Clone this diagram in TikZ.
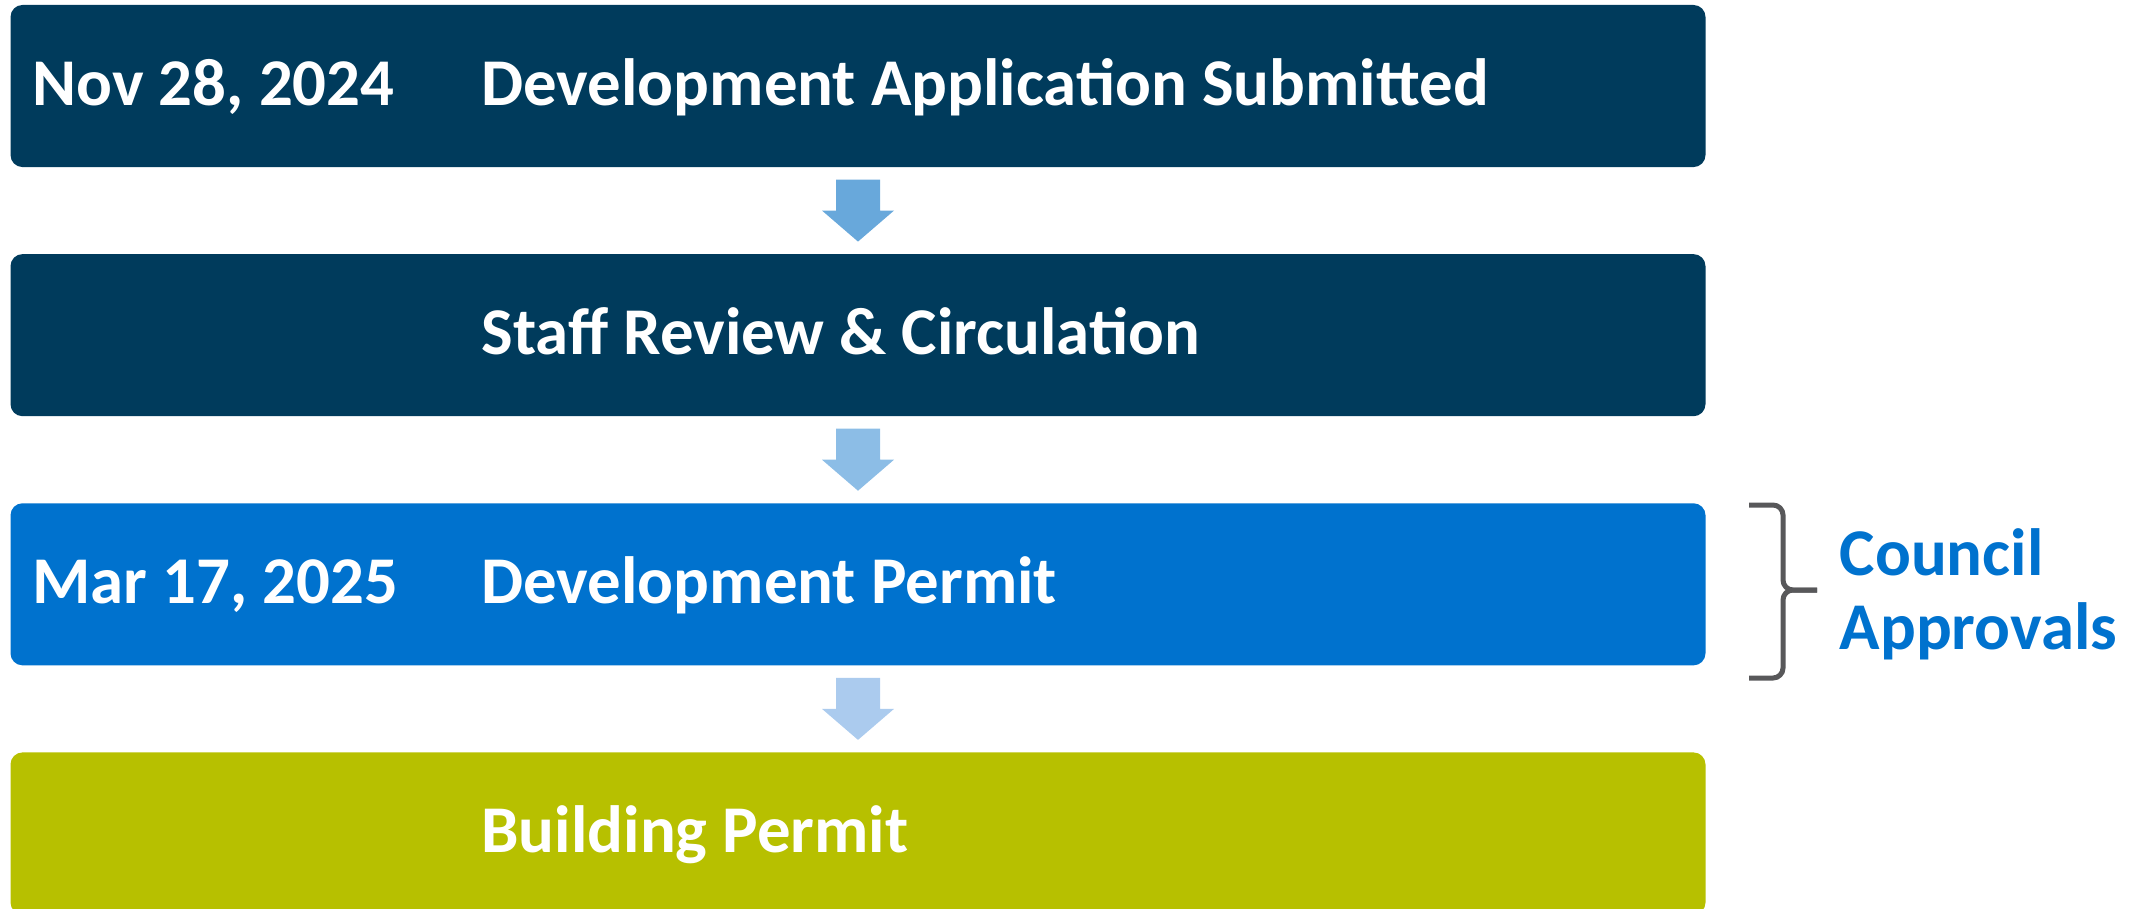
\documentclass[tikz,border=0pt]{standalone}
\usepackage{fontspec}
\setmainfont{Carlito}
\usetikzlibrary{calc}
\definecolor{navy}{HTML}{003B5C}
\definecolor{planblue}{HTML}{0072CE}
\definecolor{olive}{HTML}{B7C000}
\definecolor{arrowA}{HTML}{68A8DB}
\definecolor{arrowB}{HTML}{8CBDE6}
\definecolor{arrowC}{HTML}{ABCBEE}
\definecolor{bracegray}{HTML}{58585A}
\tikzstyle{stage} =[rectangle, rounded corners=0.12cm, minimum width=16.94cm, minimum height=1.62cm, inner sep=0pt]
\tikzstyle{label} =[anchor=base west, inner sep=0pt, text=white, font=\bfseries\fontsize{19}{21}\selectfont]
\tikzstyle{note} =[anchor=west, inner sep=0pt, align=left, text=planblue, font=\bfseries\fontsize{19}{21}\selectfont]
% fat arrow drawn in the gap between two stages
\newcommand{\stagearrow}[3]{%
  \path (#1.south) -- (#2.north) coordinate[midway] (#1-mid);
  \fill[#3] ($(#1-mid)+(-22,-31)$) -- ($(#1-mid)+(22,-31)$) -- ($(#1-mid)+(22,0)$) -- ($(#1-mid)+(36,0)$)
    -- ($(#1-mid)+(0,31)$) -- ($(#1-mid)+(-36,0)$) -- ($(#1-mid)+(-22,0)$) -- cycle;}

\begin{document}
\begin{tikzpicture}[x=0.01cm, y=-0.01cm, node distance=2.49cm]
\useasboundingbox (0,0) rectangle (2142,908);
\node (submit) [stage, fill=navy] at (858,86) {};
\node (review) [stage, fill=navy, below of=submit] {};
\node (devpermit) [stage, fill=planblue, below of=review] {};
\node (buildpermit) [stage, fill=olive, below of=devpermit] {};

\node (date1) [label] at ($(submit.west)+(22,19)$) {Nov 28, 2024};
\node (title1) [label] at ($(submit.west)+(471,19)$) {Development Application Submitted};
\node (title2) [label] at ($(review.west)+(471,19)$) {Staff Review \& Circulation};
\node (date3) [label] at ($(devpermit.west)+(22,19)$) {Mar 17, 2025};
\node (title3) [label] at ($(devpermit.west)+(471,19)$) {Development Permit};
\node (title4) [label] at ($(buildpermit.west)+(471,19)$) {Building Permit};

\stagearrow{submit}{review}{arrowA}
\stagearrow{review}{devpermit}{arrowB}
\stagearrow{devpermit}{buildpermit}{arrowC}

% brace for the council step
\draw[bracegray, line width=0.05cm, rounded corners=0.1cm] (1749,505) -- (1783,505) -- (1783,590) -- (1817,590);
\draw[bracegray, line width=0.05cm, rounded corners=0.1cm] (1749,678) -- (1783,678) -- (1783,590) -- (1817,590);
\node (council) [note] at (1839,594) {Council\\Approvals};
\end{tikzpicture}
\end{document}
